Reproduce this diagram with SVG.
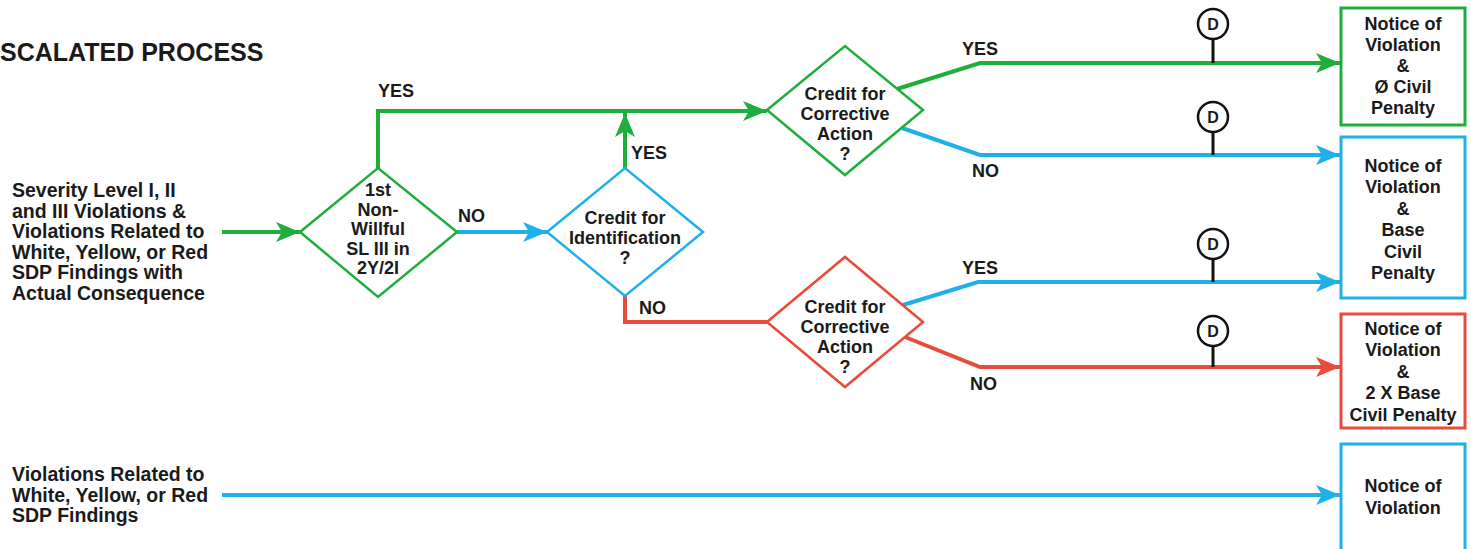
<svg xmlns="http://www.w3.org/2000/svg" width="1471" height="549" viewBox="0 0 1471 549">
<style>
text{font-family:"Liberation Sans",Arial,sans-serif;font-weight:bold;fill:#1a1a1a;}
.t{font-size:18px;text-anchor:middle;}
.l{font-size:19.5px;}
.lab{font-size:18px;}
.dt{font-size:16px;text-anchor:middle;}
.g{stroke:#1fae3c;}
.b{stroke:#1fb0ea;}
.r{stroke:#e84a3c;}
.conn{fill:none;stroke-width:4;}
.dia{fill:#fff;stroke-width:2.5;}
.box{fill:#fff;stroke-width:3;}
.dc{fill:#fff;stroke:#111;stroke-width:2.5;}
.ds{stroke:#111;stroke-width:3;}
</style>
<defs>
<marker id="ag" markerUnits="userSpaceOnUse" markerWidth="26" markerHeight="22" refX="24" refY="10" orient="auto"><path d="M0,0 L24,10 L0,20 L6,10 z" fill="#1fae3c"/></marker>
<marker id="ab" markerUnits="userSpaceOnUse" markerWidth="26" markerHeight="22" refX="24" refY="10" orient="auto"><path d="M0,0 L24,10 L0,20 L6,10 z" fill="#1fb0ea"/></marker>
<marker id="ar" markerUnits="userSpaceOnUse" markerWidth="26" markerHeight="22" refX="24" refY="10" orient="auto"><path d="M0,0 L24,10 L0,20 L6,10 z" fill="#e84a3c"/></marker>
</defs>
<rect width="1471" height="549" fill="#fff"/>
<text x="0" y="61" style="font-size:25px">SCALATED PROCESS</text>
<g id="src1">
<text class="l"><tspan x="12" y="197">Severity Level I, II</tspan><tspan x="12" y="217.5">and III Violations &amp;</tspan><tspan x="12" y="238">Violations Related to</tspan><tspan x="12" y="258.5">White, Yellow, or Red</tspan><tspan x="12" y="279">SDP Findings with</tspan><tspan x="12" y="299.5">Actual Consequence</tspan></text>
</g>
<g id="src2">
<text class="l"><tspan x="12" y="481">Violations Related to</tspan><tspan x="12" y="501.5">White, Yellow, or Red</tspan><tspan x="12" y="522">SDP Findings</tspan></text>
</g>
<g id="connectors">
<path class="conn g" d="M222,232 H300" marker-end="url(#ag)"/>
<path class="conn g" d="M378,168 V111 H767" marker-end="url(#ag)"/>
<path class="conn b" d="M457,232 H547" marker-end="url(#ab)"/>
<path class="conn g" d="M625,168 V113" marker-end="url(#ag)"/>
<path class="conn r" d="M625,296 V322 H767"/>
<path class="conn g" d="M897,89 L980,63 H1340" marker-end="url(#ag)"/>
<path class="conn b" d="M902,128 L980,155 H1340" marker-end="url(#ab)"/>
<path class="conn b" d="M903,305 L978,282 H1340" marker-end="url(#ab)"/>
<path class="conn r" d="M905,337 L980,367 H1340" marker-end="url(#ar)"/>
<path class="conn b" d="M222,495 H1340" marker-end="url(#ab)"/>
<text class="lab" x="378" y="97">YES</text>
<text class="lab" x="458" y="222">NO</text>
<text class="lab" x="631" y="159">YES</text>
<text class="lab" x="639" y="314">NO</text>
<text class="lab" x="962" y="55">YES</text>
<text class="lab" x="972" y="177">NO</text>
<text class="lab" x="962" y="274">YES</text>
<text class="lab" x="970" y="390">NO</text>
</g>
<g id="d1">
<path class="dia g" d="M300,232 L378,168 L457,232 L378,297 z"/>
<text class="t"><tspan x="378" y="196">1st</tspan><tspan x="378" y="215.5">Non-</tspan><tspan x="378" y="235">Willful</tspan><tspan x="378" y="254.5">SL III in</tspan><tspan x="378" y="274">2Y/2I</tspan></text>
</g>
<g id="d2">
<path class="dia b" d="M547,232 L625,168 L703,232 L625,296 z"/>
<text class="t"><tspan x="625" y="223.5">Credit for</tspan><tspan x="625" y="243.5">Identification</tspan><tspan x="625" y="263.5">?</tspan></text>
</g>
<g id="d3">
<path class="dia g" d="M767,110 L845,46 L923,110 L845,175 z"/>
<text class="t"><tspan x="845" y="99.5">Credit for</tspan><tspan x="845" y="119.5">Corrective</tspan><tspan x="845" y="139.5">Action</tspan><tspan x="845" y="159.5">?</tspan></text>
</g>
<g id="d4">
<path class="dia r" d="M767,322 L845,257 L923,322 L845,387 z"/>
<text class="t"><tspan x="845" y="312.5">Credit for</tspan><tspan x="845" y="332.5">Corrective</tspan><tspan x="845" y="352.5">Action</tspan><tspan x="845" y="372.5">?</tspan></text>
</g>
<g id="dmarks">
<line class="ds" x1="1213" y1="39" x2="1213" y2="63"/><circle class="dc" cx="1213" cy="24" r="15"/><text class="dt" x="1213" y="30">D</text>
<line class="ds" x1="1213" y1="132" x2="1213" y2="155"/><circle class="dc" cx="1213" cy="117" r="15"/><text class="dt" x="1213" y="123">D</text>
<line class="ds" x1="1213" y1="259" x2="1213" y2="282"/><circle class="dc" cx="1213" cy="244" r="15"/><text class="dt" x="1213" y="250">D</text>
<line class="ds" x1="1213" y1="346" x2="1213" y2="367"/><circle class="dc" cx="1213" cy="331" r="15"/><text class="dt" x="1213" y="337">D</text>
</g>
<g id="box1">
<rect class="box g" x="1341" y="8" width="124" height="117"/>
<text class="t"><tspan x="1403" y="29.5">Notice of</tspan><tspan x="1403" y="50.5">Violation</tspan><tspan x="1403" y="71.5">&amp;</tspan><tspan x="1403" y="92.5">Ø Civil</tspan><tspan x="1403" y="113.5">Penalty</tspan></text>
</g>
<g id="box2">
<rect class="box b" x="1341" y="137" width="124" height="161"/>
<text class="t"><tspan x="1403" y="171.5">Notice of</tspan><tspan x="1403" y="193">Violation</tspan><tspan x="1403" y="214.5">&amp;</tspan><tspan x="1403" y="236">Base</tspan><tspan x="1403" y="257.5">Civil</tspan><tspan x="1403" y="279">Penalty</tspan></text>
</g>
<g id="box3">
<rect class="box r" x="1341" y="314" width="124" height="114"/>
<text class="t"><tspan x="1403" y="334.5">Notice of</tspan><tspan x="1403" y="356">Violation</tspan><tspan x="1403" y="377.5">&amp;</tspan><tspan x="1403" y="399">2 X Base</tspan><tspan x="1403" y="420.5">Civil Penalty</tspan></text>
</g>
<g id="box4">
<rect class="box b" x="1341" y="444" width="124" height="115"/>
<text class="t"><tspan x="1403" y="491.5">Notice of</tspan><tspan x="1403" y="513.5">Violation</tspan></text>
</g>
</svg>
